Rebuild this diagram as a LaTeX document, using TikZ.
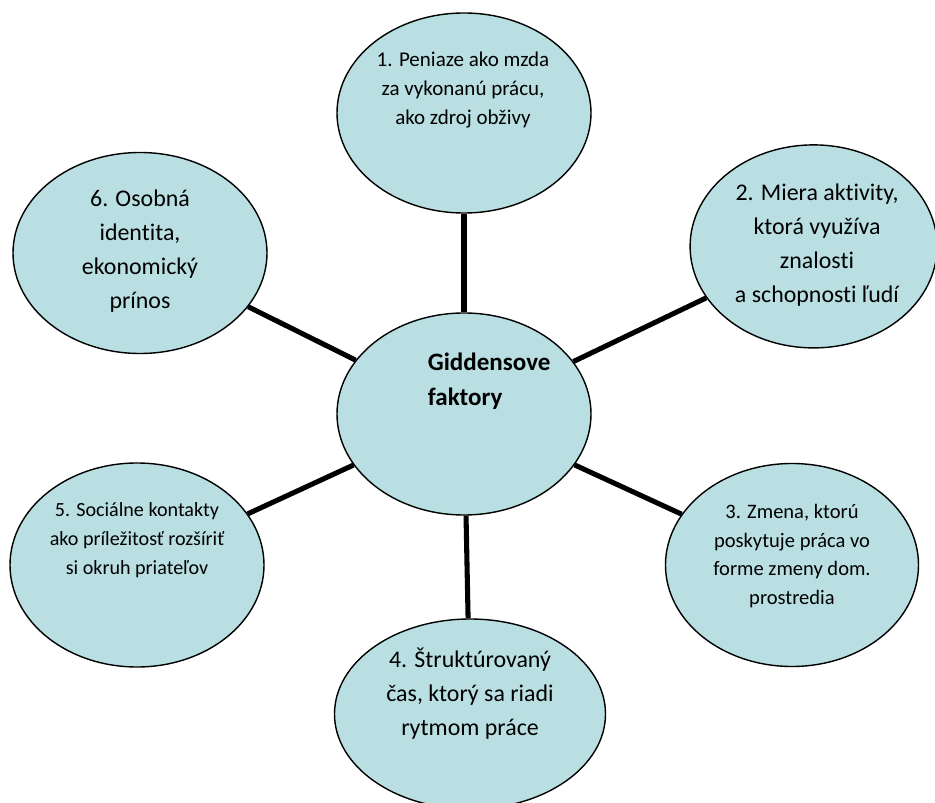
\documentclass[tikz,border=0pt]{standalone}
\usepackage{fontspec}
\setmainfont[Ligatures=NoCommon]{Carlito}
\usetikzlibrary{shapes.geometric}
\definecolor{bubble}{RGB}{185,223,227}

\begin{document}
                \begin{tikzpicture}[bub/.style={ellipse,draw,line width=1pt,fill=bubble,inner sep=0pt},
                    spoke/.style={line width=3.6pt},
                    big/.style={align=center,font=\fontsize{17}{24.2}\selectfont},
                    small/.style={align=center,font=\fontsize{14.6}{20.4}\selectfont}]
                    \useasboundingbox (0,0) rectangle (23.375,20.05);
                    % the six bubbles round the centre one
                    \node[bub,minimum width=6.35cm,minimum height=5.05cm] (c) at (11.6,9.7) {};
                    \node[bub,minimum width=6.35cm,minimum height=5cm] (e1) at (11.6,17.225) {};
                    \node[bub,minimum width=6.175cm,minimum height=5.075cm] (e2) at (20.34,13.89) {};
                    \node[bub,minimum width=6.325cm,minimum height=5.075cm] (e3) at (19.8,5.925) {};
                    \node[bub,minimum width=6.775cm,minimum height=4.75cm] (e4) at (11.75,2.2) {};
                    \node[bub,minimum width=6.35cm,minimum height=5.1cm] (e5) at (3.425,5.925) {};
                    \node[bub,minimum width=6.35cm,minimum height=5.025cm] (e6) at (3.5,13.725) {};
                    % spokes
                    \draw [spoke](c)--(e1);
                    \draw [spoke](c)--(e2);
                    \draw [spoke](c)--(e3);
                    \draw [spoke](c)--(e4);
                    \draw [spoke](c)--(e5);
                    \draw [spoke](c)--(e6);
                    % texts
                    \node[anchor=west,inner sep=0pt,align=left,font=\fontsize{17.8}{24.9}\selectfont\bfseries] (tc) at (10.69,10.53) {Giddensove\\faktory};
                    \node[small,font=\fontsize{14.94}{20.3}\selectfont] (t1) at (11.575,17.8) {1. Peniaze ako mzda\\za vykonanú prácu,\\ako zdroj obživy};
                    \node[big] (t2) at (20.425,13.93) {2. Miera aktivity,\\ktorá využíva\\znalosti\\a schopnosti ľudí};
                    \node[small] (t3) at (19.8,6.15) {3. Zmena, ktorú\\poskytuje práca vo\\forme zmeny dom.\\prostredia};
                    \node[big] (t4) at (11.75,2.72) {4. Štruktúrovaný\\čas, ktorý sa riadi\\rytmom práce};
                    \node[small,font=\fontsize{14.3}{20.6}\selectfont] (t5) at (3.425,6.55) {5. Sociálne kontakty\\ako príležitosť rozšíriť\\si okruh priateľov};
                    \node[big] (t6) at (3.5,13.78) {6. Osobná\\identita,\\ekonomický\\prínos};
                \end{tikzpicture}
\end{document}
